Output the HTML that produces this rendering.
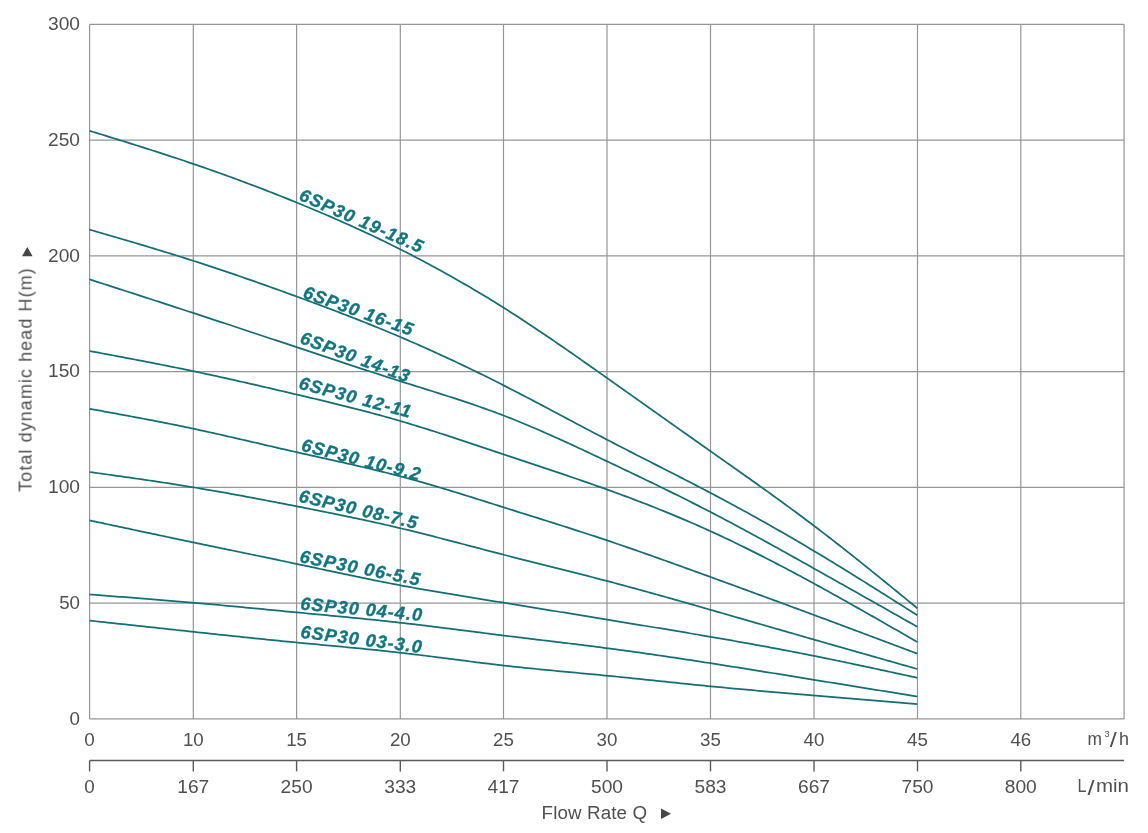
<!DOCTYPE html><html><head><meta charset="utf-8"><style>html,body{margin:0;padding:0;background:#fff;}svg{display:block;will-change:transform}text{font-family:"Liberation Sans",sans-serif;}</style></head><body>
<svg width="1148" height="833" viewBox="0 0 1148 833">
<rect width="1148" height="833" fill="#fff"/>
<g stroke="#969696" stroke-width="1.2"><line x1="89.6" y1="24.40" x2="89.6" y2="718.90"/><line x1="193.3" y1="24.40" x2="193.3" y2="718.90"/><line x1="296.6" y1="24.40" x2="296.6" y2="718.90"/><line x1="400.3" y1="24.40" x2="400.3" y2="718.90"/><line x1="503.5" y1="24.40" x2="503.5" y2="718.90"/><line x1="607.0" y1="24.40" x2="607.0" y2="718.90"/><line x1="710.5" y1="24.40" x2="710.5" y2="718.90"/><line x1="814.0" y1="24.40" x2="814.0" y2="718.90"/><line x1="917.5" y1="24.40" x2="917.5" y2="718.90"/><line x1="1020.8" y1="24.40" x2="1020.8" y2="718.90"/><line x1="1124.1" y1="24.40" x2="1124.1" y2="718.90"/><line x1="89.6" y1="24.40" x2="1124.1" y2="24.40"/><line x1="89.6" y1="140.15" x2="1124.1" y2="140.15"/><line x1="89.6" y1="255.90" x2="1124.1" y2="255.90"/><line x1="89.6" y1="371.65" x2="1124.1" y2="371.65"/><line x1="89.6" y1="487.40" x2="1124.1" y2="487.40"/><line x1="89.6" y1="603.15" x2="1124.1" y2="603.15"/><line x1="89.6" y1="718.90" x2="1124.1" y2="718.90"/></g>
<g fill="#505050" font-size="18.8" opacity="0.999"><text x="80" y="30.2" text-anchor="end" textLength="32" lengthAdjust="spacingAndGlyphs">300</text><text x="80" y="146.0" text-anchor="end" textLength="32" lengthAdjust="spacingAndGlyphs">250</text><text x="80" y="261.7" text-anchor="end" textLength="32" lengthAdjust="spacingAndGlyphs">200</text><text x="80" y="377.4" text-anchor="end" textLength="32" lengthAdjust="spacingAndGlyphs">150</text><text x="80" y="493.2" text-anchor="end" textLength="32" lengthAdjust="spacingAndGlyphs">100</text><text x="80" y="608.9" text-anchor="end" textLength="20.8" lengthAdjust="spacingAndGlyphs">50</text><text x="80" y="724.7" text-anchor="end">0</text></g>
<g fill="#505050" font-size="18" opacity="0.999"><text x="89.6" y="746" text-anchor="middle" font-size="18.8">0</text><text x="193.3" y="746" text-anchor="middle" font-size="18.8" textLength="20.8" lengthAdjust="spacingAndGlyphs">10</text><text x="296.6" y="746" text-anchor="middle" font-size="18.8" textLength="20.8" lengthAdjust="spacingAndGlyphs">15</text><text x="400.3" y="746" text-anchor="middle" font-size="18.8" textLength="20.8" lengthAdjust="spacingAndGlyphs">20</text><text x="503.5" y="746" text-anchor="middle" font-size="18.8" textLength="20.8" lengthAdjust="spacingAndGlyphs">25</text><text x="607.0" y="746" text-anchor="middle" font-size="18.8" textLength="20.8" lengthAdjust="spacingAndGlyphs">30</text><text x="710.5" y="746" text-anchor="middle" font-size="18.8" textLength="20.8" lengthAdjust="spacingAndGlyphs">35</text><text x="814.0" y="746" text-anchor="middle" font-size="18.8" textLength="20.8" lengthAdjust="spacingAndGlyphs">40</text><text x="917.5" y="746" text-anchor="middle" font-size="18.8" textLength="20.8" lengthAdjust="spacingAndGlyphs">45</text><text x="1020.8" y="746" text-anchor="middle" font-size="18.8" textLength="20.8" lengthAdjust="spacingAndGlyphs">46</text><text x="89.6" y="793" text-anchor="middle" font-size="18.8">0</text><text x="193.3" y="793" text-anchor="middle" font-size="18.8" textLength="32" lengthAdjust="spacingAndGlyphs">167</text><text x="296.6" y="793" text-anchor="middle" font-size="18.8" textLength="32" lengthAdjust="spacingAndGlyphs">250</text><text x="400.3" y="793" text-anchor="middle" font-size="18.8" textLength="32" lengthAdjust="spacingAndGlyphs">333</text><text x="503.5" y="793" text-anchor="middle" font-size="18.8" textLength="32" lengthAdjust="spacingAndGlyphs">417</text><text x="607.0" y="793" text-anchor="middle" font-size="18.8" textLength="32" lengthAdjust="spacingAndGlyphs">500</text><text x="710.5" y="793" text-anchor="middle" font-size="18.8" textLength="32" lengthAdjust="spacingAndGlyphs">583</text><text x="814.0" y="793" text-anchor="middle" font-size="18.8" textLength="32" lengthAdjust="spacingAndGlyphs">667</text><text x="917.5" y="793" text-anchor="middle" font-size="18.8" textLength="32" lengthAdjust="spacingAndGlyphs">750</text><text x="1020.8" y="793" text-anchor="middle" font-size="18.8" textLength="32" lengthAdjust="spacingAndGlyphs">800</text><text x="1087.5" y="745.3" textLength="14.5" lengthAdjust="spacingAndGlyphs">m</text><text x="1104.6" y="736.6" font-size="9">3</text><text x="1109.8" y="747.3" font-size="21" textLength="7" lengthAdjust="spacingAndGlyphs">/</text><text x="1118.9" y="745.3" textLength="10" lengthAdjust="spacingAndGlyphs">h</text><g font-size="18.8"><text x="1077.6" y="792.3" textLength="9" lengthAdjust="spacingAndGlyphs">L</text><text x="1087.4" y="794.6" font-size="21" textLength="7" lengthAdjust="spacingAndGlyphs">/</text><text x="1095.9" y="792.3" textLength="33" lengthAdjust="spacingAndGlyphs">min</text></g><text x="541.6" y="818.8" font-size="18.8" textLength="105.5" lengthAdjust="spacing">Flow Rate Q</text><text transform="translate(31.6,491.8) rotate(-90)" textLength="223.5" lengthAdjust="spacing">Total dynamic head H(m)</text></g>
<path d="M661,808.5 L671,813.8 L661,819 Z" fill="#464646"/>
<path d="M27.3,246.9 L32.6,256.3 L22,256.3 Z" fill="#464646"/>
<g stroke="#5a5a5a" stroke-width="1.4"><line x1="89.6" y1="760.5" x2="1124.1" y2="760.5"/><line x1="89.6" y1="760.5" x2="89.6" y2="771.4"/><line x1="193.3" y1="760.5" x2="193.3" y2="771.4"/><line x1="296.6" y1="760.5" x2="296.6" y2="771.4"/><line x1="400.3" y1="760.5" x2="400.3" y2="771.4"/><line x1="503.5" y1="760.5" x2="503.5" y2="771.4"/><line x1="607.0" y1="760.5" x2="607.0" y2="771.4"/><line x1="710.5" y1="760.5" x2="710.5" y2="771.4"/><line x1="814.0" y1="760.5" x2="814.0" y2="771.4"/><line x1="917.5" y1="760.5" x2="917.5" y2="771.4"/><line x1="1020.8" y1="760.5" x2="1020.8" y2="771.4"/></g>
<g fill="none" stroke="#136e75" stroke-width="1.75" stroke-linejoin="round"><path d="M89.6,130.80 L92.6,131.73 L95.6,132.65 L98.6,133.58 L101.6,134.50 L104.6,135.43 L107.6,136.36 L110.6,137.29 L113.6,138.22 L116.6,139.15 L119.6,140.08 L122.6,141.01 L125.6,141.95 L128.6,142.89 L131.6,143.83 L134.6,144.77 L137.6,145.72 L140.6,146.66 L143.6,147.61 L146.6,148.57 L149.6,149.52 L152.6,150.48 L155.6,151.44 L158.6,152.41 L161.6,153.38 L164.6,154.35 L167.6,155.33 L170.6,156.31 L173.6,157.30 L176.6,158.29 L179.6,159.29 L182.6,160.29 L185.6,161.29 L188.6,162.31 L191.6,163.32 L194.6,164.34 L197.6,165.37 L200.6,166.40 L203.6,167.44 L206.6,168.49 L209.6,169.54 L212.6,170.59 L215.6,171.65 L218.6,172.72 L221.6,173.79 L224.6,174.87 L227.6,175.95 L230.6,177.04 L233.6,178.14 L236.6,179.24 L239.6,180.35 L242.6,181.46 L245.6,182.58 L248.6,183.70 L251.6,184.84 L254.6,185.97 L257.6,187.11 L260.6,188.26 L263.6,189.42 L266.6,190.58 L269.6,191.74 L272.6,192.91 L275.6,194.09 L278.6,195.27 L281.6,196.46 L284.6,197.66 L287.6,198.86 L290.6,200.07 L293.6,201.28 L296.6,202.50 L299.6,203.73 L302.6,204.96 L305.6,206.20 L308.6,207.44 L311.6,208.69 L314.6,209.95 L317.6,211.21 L320.6,212.48 L323.6,213.76 L326.6,215.05 L329.6,216.34 L332.6,217.64 L335.6,218.95 L338.6,220.27 L341.6,221.59 L344.6,222.93 L347.6,224.27 L350.6,225.62 L353.6,226.97 L356.6,228.34 L359.6,229.71 L362.6,231.10 L365.6,232.49 L368.6,233.89 L371.6,235.30 L374.6,236.72 L377.6,238.15 L380.6,239.59 L383.6,241.04 L386.6,242.50 L389.6,243.97 L392.6,245.45 L395.6,246.94 L398.6,248.44 L401.6,249.96 L404.6,251.48 L407.6,253.01 L410.6,254.56 L413.6,256.11 L416.6,257.67 L419.6,259.25 L422.6,260.84 L425.6,262.43 L428.6,264.04 L431.6,265.66 L434.6,267.28 L437.6,268.92 L440.6,270.57 L443.6,272.23 L446.6,273.90 L449.6,275.58 L452.6,277.26 L455.6,278.96 L458.6,280.67 L461.6,282.39 L464.6,284.12 L467.6,285.86 L470.6,287.62 L473.6,289.38 L476.6,291.16 L479.6,292.94 L482.6,294.74 L485.6,296.55 L488.6,298.37 L491.6,300.20 L494.6,302.05 L497.6,303.91 L500.6,305.78 L503.6,307.66 L506.6,309.56 L509.6,311.47 L512.6,313.39 L515.6,315.32 L518.6,317.27 L521.6,319.22 L524.6,321.19 L527.6,323.16 L530.6,325.15 L533.6,327.15 L536.6,329.15 L539.6,331.16 L542.6,333.19 L545.6,335.22 L548.6,337.26 L551.6,339.30 L554.6,341.36 L557.6,343.42 L560.6,345.48 L563.6,347.56 L566.6,349.63 L569.6,351.72 L572.6,353.81 L575.6,355.90 L578.6,358.00 L581.6,360.10 L584.6,362.20 L587.6,364.31 L590.6,366.42 L593.6,368.54 L596.6,370.65 L599.6,372.77 L602.6,374.89 L605.6,377.01 L608.6,379.13 L611.6,381.25 L614.6,383.37 L617.6,385.50 L620.6,387.62 L623.6,389.74 L626.6,391.87 L629.6,393.99 L632.6,396.11 L635.6,398.24 L638.6,400.36 L641.6,402.49 L644.6,404.61 L647.6,406.73 L650.6,408.86 L653.6,410.98 L656.6,413.11 L659.6,415.23 L662.6,417.35 L665.6,419.48 L668.6,421.60 L671.6,423.72 L674.6,425.85 L677.6,427.97 L680.6,430.09 L683.6,432.21 L686.6,434.33 L689.6,436.45 L692.6,438.57 L695.6,440.69 L698.6,442.81 L701.6,444.92 L704.6,447.04 L707.6,449.16 L710.6,451.27 L713.6,453.38 L716.6,455.50 L719.6,457.61 L722.6,459.72 L725.6,461.84 L728.6,463.95 L731.6,466.06 L734.6,468.18 L737.6,470.30 L740.6,472.42 L743.6,474.54 L746.6,476.67 L749.6,478.79 L752.6,480.92 L755.6,483.06 L758.6,485.20 L761.6,487.34 L764.6,489.49 L767.6,491.64 L770.6,493.80 L773.6,495.96 L776.6,498.13 L779.6,500.31 L782.6,502.49 L785.6,504.68 L788.6,506.87 L791.6,509.08 L794.6,511.29 L797.6,513.51 L800.6,515.74 L803.6,517.97 L806.6,520.22 L809.6,522.47 L812.6,524.74 L815.6,527.01 L818.6,529.30 L821.6,531.60 L824.6,533.90 L827.6,536.21 L830.6,538.54 L833.6,540.87 L836.6,543.21 L839.6,545.56 L842.6,547.91 L845.6,550.28 L848.6,552.65 L851.6,555.02 L854.6,557.41 L857.6,559.80 L860.6,562.19 L863.6,564.59 L866.6,567.00 L869.6,569.41 L872.6,571.83 L875.6,574.25 L878.6,576.68 L881.6,579.10 L884.6,581.54 L887.6,583.97 L890.6,586.41 L893.6,588.85 L896.6,591.30 L899.6,593.74 L902.6,596.19 L905.6,598.64 L908.6,601.09 L911.6,603.54 L914.6,605.99 L917.3,608.20"/><path d="M89.6,229.60 L92.6,230.47 L95.6,231.35 L98.6,232.22 L101.6,233.09 L104.6,233.97 L107.6,234.84 L110.6,235.72 L113.6,236.59 L116.6,237.47 L119.6,238.35 L122.6,239.23 L125.6,240.12 L128.6,241.00 L131.6,241.89 L134.6,242.78 L137.6,243.67 L140.6,244.56 L143.6,245.46 L146.6,246.35 L149.6,247.26 L152.6,248.16 L155.6,249.07 L158.6,249.98 L161.6,250.89 L164.6,251.81 L167.6,252.73 L170.6,253.66 L173.6,254.59 L176.6,255.52 L179.6,256.46 L182.6,257.40 L185.6,258.35 L188.6,259.30 L191.6,260.26 L194.6,261.22 L197.6,262.18 L200.6,263.16 L203.6,264.13 L206.6,265.12 L209.6,266.10 L212.6,267.09 L215.6,268.09 L218.6,269.09 L221.6,270.10 L224.6,271.11 L227.6,272.12 L230.6,273.14 L233.6,274.16 L236.6,275.19 L239.6,276.22 L242.6,277.26 L245.6,278.30 L248.6,279.34 L251.6,280.39 L254.6,281.44 L257.6,282.49 L260.6,283.55 L263.6,284.61 L266.6,285.68 L269.6,286.75 L272.6,287.82 L275.6,288.89 L278.6,289.97 L281.6,291.05 L284.6,292.14 L287.6,293.22 L290.6,294.31 L293.6,295.40 L296.6,296.50 L299.6,297.60 L302.6,298.70 L305.6,299.80 L308.6,300.91 L311.6,302.02 L314.6,303.13 L317.6,304.25 L320.6,305.37 L323.6,306.49 L326.6,307.62 L329.6,308.75 L332.6,309.89 L335.6,311.03 L338.6,312.18 L341.6,313.33 L344.6,314.48 L347.6,315.64 L350.6,316.81 L353.6,317.98 L356.6,319.16 L359.6,320.34 L362.6,321.53 L365.6,322.72 L368.6,323.92 L371.6,325.12 L374.6,326.34 L377.6,327.55 L380.6,328.78 L383.6,330.01 L386.6,331.25 L389.6,332.50 L392.6,333.75 L395.6,335.01 L398.6,336.28 L401.6,337.55 L404.6,338.84 L407.6,340.13 L410.6,341.43 L413.6,342.73 L416.6,344.05 L419.6,345.37 L422.6,346.70 L425.6,348.04 L428.6,349.38 L431.6,350.73 L434.6,352.09 L437.6,353.46 L440.6,354.83 L443.6,356.22 L446.6,357.61 L449.6,359.00 L452.6,360.41 L455.6,361.82 L458.6,363.23 L461.6,364.66 L464.6,366.09 L467.6,367.53 L470.6,368.98 L473.6,370.43 L476.6,371.89 L479.6,373.36 L482.6,374.83 L485.6,376.32 L488.6,377.81 L491.6,379.30 L494.6,380.80 L497.6,382.31 L500.6,383.83 L503.6,385.35 L506.6,386.88 L509.6,388.42 L512.6,389.96 L515.6,391.51 L518.6,393.06 L521.6,394.62 L524.6,396.18 L527.6,397.75 L530.6,399.32 L533.6,400.89 L536.6,402.47 L539.6,404.05 L542.6,405.64 L545.6,407.23 L548.6,408.81 L551.6,410.40 L554.6,412.00 L557.6,413.59 L560.6,415.18 L563.6,416.78 L566.6,418.37 L569.6,419.97 L572.6,421.56 L575.6,423.16 L578.6,424.75 L581.6,426.34 L584.6,427.93 L587.6,429.51 L590.6,431.10 L593.6,432.68 L596.6,434.26 L599.6,435.83 L602.6,437.40 L605.6,438.97 L608.6,440.53 L611.6,442.09 L614.6,443.64 L617.6,445.19 L620.6,446.74 L623.6,448.28 L626.6,449.82 L629.6,451.36 L632.6,452.90 L635.6,454.43 L638.6,455.96 L641.6,457.49 L644.6,459.02 L647.6,460.55 L650.6,462.07 L653.6,463.60 L656.6,465.13 L659.6,466.65 L662.6,468.18 L665.6,469.71 L668.6,471.24 L671.6,472.77 L674.6,474.30 L677.6,475.84 L680.6,477.38 L683.6,478.92 L686.6,480.46 L689.6,482.01 L692.6,483.56 L695.6,485.11 L698.6,486.67 L701.6,488.23 L704.6,489.80 L707.6,491.37 L710.6,492.95 L713.6,494.54 L716.6,496.13 L719.6,497.72 L722.6,499.32 L725.6,500.93 L728.6,502.54 L731.6,504.16 L734.6,505.79 L737.6,507.42 L740.6,509.05 L743.6,510.69 L746.6,512.34 L749.6,514.00 L752.6,515.66 L755.6,517.32 L758.6,519.00 L761.6,520.67 L764.6,522.36 L767.6,524.05 L770.6,525.75 L773.6,527.45 L776.6,529.16 L779.6,530.87 L782.6,532.60 L785.6,534.32 L788.6,536.06 L791.6,537.80 L794.6,539.55 L797.6,541.30 L800.6,543.06 L803.6,544.83 L806.6,546.60 L809.6,548.38 L812.6,550.16 L815.6,551.96 L818.6,553.76 L821.6,555.56 L824.6,557.37 L827.6,559.19 L830.6,561.01 L833.6,562.84 L836.6,564.67 L839.6,566.51 L842.6,568.36 L845.6,570.20 L848.6,572.06 L851.6,573.91 L854.6,575.78 L857.6,577.64 L860.6,579.51 L863.6,581.38 L866.6,583.26 L869.6,585.14 L872.6,587.02 L875.6,588.91 L878.6,590.79 L881.6,592.68 L884.6,594.58 L887.6,596.47 L890.6,598.37 L893.6,600.27 L896.6,602.17 L899.6,604.07 L902.6,605.97 L905.6,607.87 L908.6,609.78 L911.6,611.68 L914.6,613.59 L917.3,615.30"/><path d="M89.6,279.40 L92.6,280.37 L95.6,281.33 L98.6,282.30 L101.6,283.27 L104.6,284.24 L107.6,285.20 L110.6,286.17 L113.6,287.14 L116.6,288.11 L119.6,289.07 L122.6,290.04 L125.6,291.01 L128.6,291.98 L131.6,292.95 L134.6,293.92 L137.6,294.89 L140.6,295.86 L143.6,296.83 L146.6,297.80 L149.6,298.77 L152.6,299.75 L155.6,300.72 L158.6,301.69 L161.6,302.67 L164.6,303.64 L167.6,304.62 L170.6,305.59 L173.6,306.57 L176.6,307.55 L179.6,308.52 L182.6,309.50 L185.6,310.48 L188.6,311.46 L191.6,312.44 L194.6,313.43 L197.6,314.41 L200.6,315.39 L203.6,316.38 L206.6,317.36 L209.6,318.35 L212.6,319.34 L215.6,320.32 L218.6,321.31 L221.6,322.30 L224.6,323.29 L227.6,324.28 L230.6,325.27 L233.6,326.26 L236.6,327.26 L239.6,328.25 L242.6,329.24 L245.6,330.24 L248.6,331.23 L251.6,332.23 L254.6,333.22 L257.6,334.22 L260.6,335.22 L263.6,336.21 L266.6,337.21 L269.6,338.21 L272.6,339.21 L275.6,340.20 L278.6,341.20 L281.6,342.20 L284.6,343.20 L287.6,344.20 L290.6,345.20 L293.6,346.20 L296.6,347.20 L299.6,348.20 L302.6,349.20 L305.6,350.20 L308.6,351.20 L311.6,352.20 L314.6,353.20 L317.6,354.20 L320.6,355.20 L323.6,356.20 L326.6,357.19 L329.6,358.19 L332.6,359.19 L335.6,360.18 L338.6,361.17 L341.6,362.17 L344.6,363.16 L347.6,364.15 L350.6,365.13 L353.6,366.12 L356.6,367.11 L359.6,368.09 L362.6,369.07 L365.6,370.05 L368.6,371.03 L371.6,372.00 L374.6,372.97 L377.6,373.94 L380.6,374.91 L383.6,375.88 L386.6,376.84 L389.6,377.80 L392.6,378.76 L395.6,379.71 L398.6,380.66 L401.6,381.61 L404.6,382.56 L407.6,383.50 L410.6,384.44 L413.6,385.38 L416.6,386.32 L419.6,387.25 L422.6,388.19 L425.6,389.13 L428.6,390.07 L431.6,391.01 L434.6,391.96 L437.6,392.91 L440.6,393.86 L443.6,394.81 L446.6,395.77 L449.6,396.73 L452.6,397.70 L455.6,398.68 L458.6,399.66 L461.6,400.65 L464.6,401.65 L467.6,402.65 L470.6,403.66 L473.6,404.69 L476.6,405.72 L479.6,406.76 L482.6,407.82 L485.6,408.88 L488.6,409.96 L491.6,411.05 L494.6,412.15 L497.6,413.26 L500.6,414.39 L503.6,415.54 L506.6,416.70 L509.6,417.87 L512.6,419.06 L515.6,420.26 L518.6,421.47 L521.6,422.70 L524.6,423.94 L527.6,425.19 L530.6,426.46 L533.6,427.73 L536.6,429.02 L539.6,430.32 L542.6,431.62 L545.6,432.94 L548.6,434.26 L551.6,435.60 L554.6,436.94 L557.6,438.29 L560.6,439.65 L563.6,441.01 L566.6,442.39 L569.6,443.76 L572.6,445.15 L575.6,446.54 L578.6,447.93 L581.6,449.33 L584.6,450.73 L587.6,452.14 L590.6,453.55 L593.6,454.96 L596.6,456.38 L599.6,457.80 L602.6,459.22 L605.6,460.64 L608.6,462.06 L611.6,463.48 L614.6,464.90 L617.6,466.33 L620.6,467.75 L623.6,469.18 L626.6,470.61 L629.6,472.04 L632.6,473.48 L635.6,474.91 L638.6,476.35 L641.6,477.79 L644.6,479.23 L647.6,480.68 L650.6,482.13 L653.6,483.58 L656.6,485.04 L659.6,486.49 L662.6,487.96 L665.6,489.43 L668.6,490.90 L671.6,492.37 L674.6,493.86 L677.6,495.34 L680.6,496.83 L683.6,498.33 L686.6,499.83 L689.6,501.34 L692.6,502.85 L695.6,504.37 L698.6,505.89 L701.6,507.42 L704.6,508.96 L707.6,510.50 L710.6,512.05 L713.6,513.61 L716.6,515.17 L719.6,516.74 L722.6,518.32 L725.6,519.90 L728.6,521.49 L731.6,523.09 L734.6,524.69 L737.6,526.30 L740.6,527.91 L743.6,529.53 L746.6,531.15 L749.6,532.77 L752.6,534.41 L755.6,536.04 L758.6,537.68 L761.6,539.32 L764.6,540.97 L767.6,542.62 L770.6,544.28 L773.6,545.94 L776.6,547.60 L779.6,549.26 L782.6,550.93 L785.6,552.60 L788.6,554.27 L791.6,555.95 L794.6,557.62 L797.6,559.30 L800.6,560.98 L803.6,562.66 L806.6,564.35 L809.6,566.03 L812.6,567.71 L815.6,569.40 L818.6,571.09 L821.6,572.77 L824.6,574.46 L827.6,576.15 L830.6,577.84 L833.6,579.53 L836.6,581.21 L839.6,582.90 L842.6,584.60 L845.6,586.29 L848.6,587.98 L851.6,589.67 L854.6,591.36 L857.6,593.06 L860.6,594.75 L863.6,596.44 L866.6,598.14 L869.6,599.83 L872.6,601.53 L875.6,603.22 L878.6,604.92 L881.6,606.61 L884.6,608.31 L887.6,610.00 L890.6,611.70 L893.6,613.40 L896.6,615.09 L899.6,616.79 L902.6,618.49 L905.6,620.18 L908.6,621.88 L911.6,623.58 L914.6,625.27 L917.3,626.80"/><path d="M89.6,351.00 L92.6,351.56 L95.6,352.12 L98.6,352.69 L101.6,353.25 L104.6,353.81 L107.6,354.38 L110.6,354.94 L113.6,355.51 L116.6,356.07 L119.6,356.64 L122.6,357.21 L125.6,357.78 L128.6,358.35 L131.6,358.92 L134.6,359.50 L137.6,360.07 L140.6,360.65 L143.6,361.23 L146.6,361.81 L149.6,362.39 L152.6,362.98 L155.6,363.57 L158.6,364.16 L161.6,364.75 L164.6,365.35 L167.6,365.94 L170.6,366.54 L173.6,367.15 L176.6,367.76 L179.6,368.37 L182.6,368.98 L185.6,369.60 L188.6,370.22 L191.6,370.84 L194.6,371.47 L197.6,372.11 L200.6,372.74 L203.6,373.38 L206.6,374.02 L209.6,374.67 L212.6,375.32 L215.6,375.97 L218.6,376.63 L221.6,377.29 L224.6,377.95 L227.6,378.62 L230.6,379.29 L233.6,379.96 L236.6,380.63 L239.6,381.31 L242.6,381.98 L245.6,382.66 L248.6,383.35 L251.6,384.03 L254.6,384.72 L257.6,385.41 L260.6,386.10 L263.6,386.79 L266.6,387.49 L269.6,388.18 L272.6,388.88 L275.6,389.58 L278.6,390.28 L281.6,390.98 L284.6,391.68 L287.6,392.38 L290.6,393.09 L293.6,393.79 L296.6,394.50 L299.6,395.21 L302.6,395.91 L305.6,396.62 L308.6,397.33 L311.6,398.04 L314.6,398.76 L317.6,399.47 L320.6,400.19 L323.6,400.91 L326.6,401.64 L329.6,402.36 L332.6,403.09 L335.6,403.83 L338.6,404.56 L341.6,405.31 L344.6,406.05 L347.6,406.80 L350.6,407.56 L353.6,408.32 L356.6,409.08 L359.6,409.86 L362.6,410.63 L365.6,411.42 L368.6,412.21 L371.6,413.00 L374.6,413.81 L377.6,414.62 L380.6,415.43 L383.6,416.26 L386.6,417.09 L389.6,417.93 L392.6,418.78 L395.6,419.64 L398.6,420.51 L401.6,421.38 L404.6,422.26 L407.6,423.16 L410.6,424.06 L413.6,424.97 L416.6,425.89 L419.6,426.81 L422.6,427.74 L425.6,428.68 L428.6,429.63 L431.6,430.58 L434.6,431.54 L437.6,432.50 L440.6,433.47 L443.6,434.44 L446.6,435.42 L449.6,436.40 L452.6,437.38 L455.6,438.37 L458.6,439.37 L461.6,440.36 L464.6,441.36 L467.6,442.36 L470.6,443.36 L473.6,444.37 L476.6,445.37 L479.6,446.38 L482.6,447.39 L485.6,448.40 L488.6,449.40 L491.6,450.41 L494.6,451.42 L497.6,452.42 L500.6,453.43 L503.6,454.43 L506.6,455.44 L509.6,456.44 L512.6,457.44 L515.6,458.43 L518.6,459.43 L521.6,460.43 L524.6,461.42 L527.6,462.42 L530.6,463.42 L533.6,464.41 L536.6,465.41 L539.6,466.41 L542.6,467.40 L545.6,468.40 L548.6,469.40 L551.6,470.41 L554.6,471.41 L557.6,472.42 L560.6,473.43 L563.6,474.44 L566.6,475.45 L569.6,476.47 L572.6,477.49 L575.6,478.52 L578.6,479.54 L581.6,480.58 L584.6,481.61 L587.6,482.65 L590.6,483.70 L593.6,484.75 L596.6,485.80 L599.6,486.86 L602.6,487.93 L605.6,489.00 L608.6,490.08 L611.6,491.16 L614.6,492.25 L617.6,493.34 L620.6,494.45 L623.6,495.56 L626.6,496.67 L629.6,497.80 L632.6,498.93 L635.6,500.06 L638.6,501.21 L641.6,502.36 L644.6,503.52 L647.6,504.69 L650.6,505.87 L653.6,507.05 L656.6,508.24 L659.6,509.44 L662.6,510.65 L665.6,511.87 L668.6,513.09 L671.6,514.33 L674.6,515.57 L677.6,516.82 L680.6,518.09 L683.6,519.36 L686.6,520.64 L689.6,521.93 L692.6,523.23 L695.6,524.54 L698.6,525.86 L701.6,527.19 L704.6,528.53 L707.6,529.88 L710.6,531.25 L713.6,532.62 L716.6,534.00 L719.6,535.39 L722.6,536.80 L725.6,538.21 L728.6,539.64 L731.6,541.07 L734.6,542.51 L737.6,543.96 L740.6,545.42 L743.6,546.90 L746.6,548.37 L749.6,549.86 L752.6,551.36 L755.6,552.86 L758.6,554.38 L761.6,555.90 L764.6,557.43 L767.6,558.96 L770.6,560.51 L773.6,562.06 L776.6,563.62 L779.6,565.19 L782.6,566.76 L785.6,568.34 L788.6,569.93 L791.6,571.52 L794.6,573.12 L797.6,574.72 L800.6,576.34 L803.6,577.95 L806.6,579.57 L809.6,581.20 L812.6,582.84 L815.6,584.47 L818.6,586.12 L821.6,587.77 L824.6,589.42 L827.6,591.08 L830.6,592.74 L833.6,594.40 L836.6,596.07 L839.6,597.75 L842.6,599.43 L845.6,601.11 L848.6,602.79 L851.6,604.48 L854.6,606.17 L857.6,607.87 L860.6,609.56 L863.6,611.26 L866.6,612.97 L869.6,614.67 L872.6,616.38 L875.6,618.09 L878.6,619.80 L881.6,621.51 L884.6,623.23 L887.6,624.95 L890.6,626.67 L893.6,628.39 L896.6,630.11 L899.6,631.83 L902.6,633.55 L905.6,635.27 L908.6,637.00 L911.6,638.72 L914.6,640.45 L917.3,642.00"/><path d="M89.6,408.80 L92.6,409.34 L95.6,409.89 L98.6,410.43 L101.6,410.98 L104.6,411.52 L107.6,412.07 L110.6,412.62 L113.6,413.17 L116.6,413.72 L119.6,414.27 L122.6,414.82 L125.6,415.38 L128.6,415.93 L131.6,416.49 L134.6,417.05 L137.6,417.62 L140.6,418.18 L143.6,418.75 L146.6,419.32 L149.6,419.90 L152.6,420.47 L155.6,421.05 L158.6,421.64 L161.6,422.23 L164.6,422.82 L167.6,423.41 L170.6,424.01 L173.6,424.62 L176.6,425.23 L179.6,425.84 L182.6,426.46 L185.6,427.08 L188.6,427.71 L191.6,428.34 L194.6,428.98 L197.6,429.62 L200.6,430.27 L203.6,430.92 L206.6,431.58 L209.6,432.24 L212.6,432.91 L215.6,433.58 L218.6,434.25 L221.6,434.93 L224.6,435.61 L227.6,436.29 L230.6,436.98 L233.6,437.67 L236.6,438.36 L239.6,439.05 L242.6,439.74 L245.6,440.44 L248.6,441.13 L251.6,441.83 L254.6,442.52 L257.6,443.22 L260.6,443.92 L263.6,444.62 L266.6,445.31 L269.6,446.01 L272.6,446.70 L275.6,447.40 L278.6,448.09 L281.6,448.78 L284.6,449.47 L287.6,450.16 L290.6,450.84 L293.6,451.52 L296.6,452.20 L299.6,452.88 L302.6,453.55 L305.6,454.22 L308.6,454.89 L311.6,455.55 L314.6,456.22 L317.6,456.88 L320.6,457.54 L323.6,458.21 L326.6,458.87 L329.6,459.54 L332.6,460.20 L335.6,460.87 L338.6,461.54 L341.6,462.21 L344.6,462.88 L347.6,463.55 L350.6,464.23 L353.6,464.92 L356.6,465.60 L359.6,466.29 L362.6,466.99 L365.6,467.69 L368.6,468.40 L371.6,469.11 L374.6,469.83 L377.6,470.55 L380.6,471.29 L383.6,472.03 L386.6,472.77 L389.6,473.53 L392.6,474.30 L395.6,475.07 L398.6,475.85 L401.6,476.64 L404.6,477.45 L407.6,478.26 L410.6,479.08 L413.6,479.91 L416.6,480.75 L419.6,481.60 L422.6,482.45 L425.6,483.31 L428.6,484.18 L431.6,485.06 L434.6,485.94 L437.6,486.83 L440.6,487.73 L443.6,488.63 L446.6,489.53 L449.6,490.44 L452.6,491.36 L455.6,492.28 L458.6,493.20 L461.6,494.13 L464.6,495.06 L467.6,496.00 L470.6,496.93 L473.6,497.87 L476.6,498.82 L479.6,499.76 L482.6,500.70 L485.6,501.65 L488.6,502.60 L491.6,503.54 L494.6,504.49 L497.6,505.44 L500.6,506.39 L503.6,507.33 L506.6,508.28 L509.6,509.22 L512.6,510.16 L515.6,511.11 L518.6,512.05 L521.6,512.99 L524.6,513.93 L527.6,514.88 L530.6,515.82 L533.6,516.76 L536.6,517.70 L539.6,518.65 L542.6,519.59 L545.6,520.54 L548.6,521.49 L551.6,522.43 L554.6,523.38 L557.6,524.34 L560.6,525.29 L563.6,526.25 L566.6,527.20 L569.6,528.16 L572.6,529.13 L575.6,530.09 L578.6,531.06 L581.6,532.03 L584.6,533.01 L587.6,533.98 L590.6,534.97 L593.6,535.95 L596.6,536.94 L599.6,537.93 L602.6,538.93 L605.6,539.93 L608.6,540.94 L611.6,541.95 L614.6,542.96 L617.6,543.98 L620.6,545.00 L623.6,546.03 L626.6,547.06 L629.6,548.10 L632.6,549.14 L635.6,550.18 L638.6,551.22 L641.6,552.27 L644.6,553.33 L647.6,554.38 L650.6,555.44 L653.6,556.50 L656.6,557.56 L659.6,558.63 L662.6,559.70 L665.6,560.77 L668.6,561.84 L671.6,562.92 L674.6,564.00 L677.6,565.07 L680.6,566.16 L683.6,567.24 L686.6,568.32 L689.6,569.41 L692.6,570.50 L695.6,571.58 L698.6,572.67 L701.6,573.76 L704.6,574.85 L707.6,575.94 L710.6,577.04 L713.6,578.13 L716.6,579.22 L719.6,580.31 L722.6,581.41 L725.6,582.50 L728.6,583.60 L731.6,584.69 L734.6,585.79 L737.6,586.88 L740.6,587.98 L743.6,589.08 L746.6,590.18 L749.6,591.27 L752.6,592.37 L755.6,593.47 L758.6,594.57 L761.6,595.67 L764.6,596.78 L767.6,597.88 L770.6,598.98 L773.6,600.08 L776.6,601.19 L779.6,602.29 L782.6,603.39 L785.6,604.50 L788.6,605.61 L791.6,606.71 L794.6,607.82 L797.6,608.93 L800.6,610.04 L803.6,611.15 L806.6,612.26 L809.6,613.37 L812.6,614.48 L815.6,615.59 L818.6,616.71 L821.6,617.82 L824.6,618.94 L827.6,620.05 L830.6,621.17 L833.6,622.28 L836.6,623.40 L839.6,624.52 L842.6,625.64 L845.6,626.76 L848.6,627.87 L851.6,628.99 L854.6,630.11 L857.6,631.24 L860.6,632.36 L863.6,633.48 L866.6,634.60 L869.6,635.72 L872.6,636.85 L875.6,637.97 L878.6,639.09 L881.6,640.22 L884.6,641.34 L887.6,642.46 L890.6,643.59 L893.6,644.71 L896.6,645.84 L899.6,646.96 L902.6,648.09 L905.6,649.21 L908.6,650.34 L911.6,651.46 L914.6,652.59 L917.3,653.60"/><path d="M89.6,472.00 L92.6,472.42 L95.6,472.83 L98.6,473.25 L101.6,473.67 L104.6,474.08 L107.6,474.50 L110.6,474.92 L113.6,475.34 L116.6,475.76 L119.6,476.19 L122.6,476.61 L125.6,477.03 L128.6,477.46 L131.6,477.89 L134.6,478.32 L137.6,478.75 L140.6,479.19 L143.6,479.62 L146.6,480.06 L149.6,480.50 L152.6,480.95 L155.6,481.39 L158.6,481.84 L161.6,482.30 L164.6,482.75 L167.6,483.21 L170.6,483.68 L173.6,484.14 L176.6,484.61 L179.6,485.08 L182.6,485.56 L185.6,486.04 L188.6,486.53 L191.6,487.02 L194.6,487.51 L197.6,488.01 L200.6,488.52 L203.6,489.03 L206.6,489.54 L209.6,490.05 L212.6,490.57 L215.6,491.10 L218.6,491.63 L221.6,492.16 L224.6,492.69 L227.6,493.23 L230.6,493.77 L233.6,494.32 L236.6,494.86 L239.6,495.41 L242.6,495.97 L245.6,496.52 L248.6,497.08 L251.6,497.65 L254.6,498.21 L257.6,498.78 L260.6,499.34 L263.6,499.91 L266.6,500.49 L269.6,501.06 L272.6,501.64 L275.6,502.22 L278.6,502.80 L281.6,503.38 L284.6,503.96 L287.6,504.54 L290.6,505.13 L293.6,505.71 L296.6,506.30 L299.6,506.89 L302.6,507.48 L305.6,508.07 L308.6,508.66 L311.6,509.25 L314.6,509.84 L317.6,510.44 L320.6,511.04 L323.6,511.64 L326.6,512.24 L329.6,512.84 L332.6,513.45 L335.6,514.06 L338.6,514.67 L341.6,515.29 L344.6,515.91 L347.6,516.53 L350.6,517.16 L353.6,517.79 L356.6,518.42 L359.6,519.06 L362.6,519.70 L365.6,520.35 L368.6,521.00 L371.6,521.65 L374.6,522.31 L377.6,522.98 L380.6,523.65 L383.6,524.33 L386.6,525.01 L389.6,525.70 L392.6,526.39 L395.6,527.09 L398.6,527.80 L401.6,528.51 L404.6,529.23 L407.6,529.95 L410.6,530.68 L413.6,531.42 L416.6,532.16 L419.6,532.91 L422.6,533.66 L425.6,534.41 L428.6,535.17 L431.6,535.94 L434.6,536.70 L437.6,537.48 L440.6,538.25 L443.6,539.03 L446.6,539.80 L449.6,540.59 L452.6,541.37 L455.6,542.15 L458.6,542.94 L461.6,543.73 L464.6,544.52 L467.6,545.31 L470.6,546.10 L473.6,546.89 L476.6,547.67 L479.6,548.46 L482.6,549.25 L485.6,550.04 L488.6,550.82 L491.6,551.61 L494.6,552.39 L497.6,553.17 L500.6,553.95 L503.6,554.73 L506.6,555.50 L509.6,556.27 L512.6,557.04 L515.6,557.80 L518.6,558.56 L521.6,559.32 L524.6,560.08 L527.6,560.84 L530.6,561.60 L533.6,562.35 L536.6,563.11 L539.6,563.86 L542.6,564.61 L545.6,565.37 L548.6,566.12 L551.6,566.87 L554.6,567.62 L557.6,568.38 L560.6,569.13 L563.6,569.88 L566.6,570.64 L569.6,571.40 L572.6,572.15 L575.6,572.91 L578.6,573.67 L581.6,574.44 L584.6,575.20 L587.6,575.97 L590.6,576.74 L593.6,577.51 L596.6,578.29 L599.6,579.07 L602.6,579.85 L605.6,580.63 L608.6,581.42 L611.6,582.21 L614.6,583.01 L617.6,583.81 L620.6,584.61 L623.6,585.42 L626.6,586.23 L629.6,587.04 L632.6,587.86 L635.6,588.68 L638.6,589.50 L641.6,590.32 L644.6,591.15 L647.6,591.98 L650.6,592.81 L653.6,593.65 L656.6,594.48 L659.6,595.32 L662.6,596.17 L665.6,597.01 L668.6,597.85 L671.6,598.70 L674.6,599.55 L677.6,600.40 L680.6,601.25 L683.6,602.10 L686.6,602.96 L689.6,603.81 L692.6,604.67 L695.6,605.53 L698.6,606.39 L701.6,607.25 L704.6,608.11 L707.6,608.97 L710.6,609.83 L713.6,610.69 L716.6,611.55 L719.6,612.42 L722.6,613.28 L725.6,614.14 L728.6,615.01 L731.6,615.87 L734.6,616.73 L737.6,617.60 L740.6,618.46 L743.6,619.33 L746.6,620.19 L749.6,621.06 L752.6,621.92 L755.6,622.79 L758.6,623.65 L761.6,624.52 L764.6,625.38 L767.6,626.25 L770.6,627.11 L773.6,627.98 L776.6,628.84 L779.6,629.71 L782.6,630.57 L785.6,631.44 L788.6,632.30 L791.6,633.16 L794.6,634.03 L797.6,634.89 L800.6,635.75 L803.6,636.62 L806.6,637.48 L809.6,638.34 L812.6,639.20 L815.6,640.06 L818.6,640.92 L821.6,641.78 L824.6,642.64 L827.6,643.49 L830.6,644.35 L833.6,645.21 L836.6,646.07 L839.6,646.92 L842.6,647.78 L845.6,648.63 L848.6,649.49 L851.6,650.34 L854.6,651.20 L857.6,652.05 L860.6,652.90 L863.6,653.76 L866.6,654.61 L869.6,655.46 L872.6,656.32 L875.6,657.17 L878.6,658.02 L881.6,658.87 L884.6,659.72 L887.6,660.58 L890.6,661.43 L893.6,662.28 L896.6,663.13 L899.6,663.98 L902.6,664.83 L905.6,665.68 L908.6,666.53 L911.6,667.38 L914.6,668.23 L917.3,669.00"/><path d="M89.6,520.40 L92.6,521.04 L95.6,521.68 L98.6,522.32 L101.6,522.97 L104.6,523.61 L107.6,524.25 L110.6,524.89 L113.6,525.53 L116.6,526.17 L119.6,526.81 L122.6,527.45 L125.6,528.09 L128.6,528.73 L131.6,529.37 L134.6,530.01 L137.6,530.65 L140.6,531.28 L143.6,531.92 L146.6,532.56 L149.6,533.19 L152.6,533.83 L155.6,534.47 L158.6,535.10 L161.6,535.74 L164.6,536.37 L167.6,537.00 L170.6,537.64 L173.6,538.27 L176.6,538.90 L179.6,539.53 L182.6,540.16 L185.6,540.79 L188.6,541.42 L191.6,542.04 L194.6,542.67 L197.6,543.30 L200.6,543.92 L203.6,544.55 L206.6,545.17 L209.6,545.79 L212.6,546.42 L215.6,547.04 L218.6,547.66 L221.6,548.28 L224.6,548.90 L227.6,549.52 L230.6,550.14 L233.6,550.76 L236.6,551.39 L239.6,552.01 L242.6,552.63 L245.6,553.25 L248.6,553.87 L251.6,554.49 L254.6,555.11 L257.6,555.74 L260.6,556.36 L263.6,556.98 L266.6,557.61 L269.6,558.23 L272.6,558.86 L275.6,559.48 L278.6,560.11 L281.6,560.74 L284.6,561.37 L287.6,562.00 L290.6,562.63 L293.6,563.27 L296.6,563.90 L299.6,564.54 L302.6,565.17 L305.6,565.81 L308.6,566.45 L311.6,567.09 L314.6,567.73 L317.6,568.37 L320.6,569.01 L323.6,569.65 L326.6,570.28 L329.6,570.92 L332.6,571.56 L335.6,572.20 L338.6,572.83 L341.6,573.47 L344.6,574.10 L347.6,574.73 L350.6,575.36 L353.6,575.98 L356.6,576.61 L359.6,577.23 L362.6,577.85 L365.6,578.46 L368.6,579.07 L371.6,579.68 L374.6,580.29 L377.6,580.89 L380.6,581.49 L383.6,582.08 L386.6,582.67 L389.6,583.25 L392.6,583.83 L395.6,584.41 L398.6,584.98 L401.6,585.54 L404.6,586.10 L407.6,586.66 L410.6,587.21 L413.6,587.75 L416.6,588.29 L419.6,588.82 L422.6,589.36 L425.6,589.88 L428.6,590.40 L431.6,590.92 L434.6,591.44 L437.6,591.95 L440.6,592.46 L443.6,592.96 L446.6,593.47 L449.6,593.97 L452.6,594.47 L455.6,594.96 L458.6,595.45 L461.6,595.95 L464.6,596.43 L467.6,596.92 L470.6,597.41 L473.6,597.89 L476.6,598.38 L479.6,598.86 L482.6,599.34 L485.6,599.83 L488.6,600.31 L491.6,600.79 L494.6,601.27 L497.6,601.75 L500.6,602.23 L503.6,602.72 L506.6,603.20 L509.6,603.68 L512.6,604.17 L515.6,604.65 L518.6,605.14 L521.6,605.63 L524.6,606.11 L527.6,606.60 L530.6,607.09 L533.6,607.58 L536.6,608.06 L539.6,608.55 L542.6,609.04 L545.6,609.53 L548.6,610.02 L551.6,610.52 L554.6,611.01 L557.6,611.50 L560.6,611.99 L563.6,612.48 L566.6,612.97 L569.6,613.46 L572.6,613.96 L575.6,614.45 L578.6,614.94 L581.6,615.43 L584.6,615.93 L587.6,616.42 L590.6,616.91 L593.6,617.40 L596.6,617.89 L599.6,618.39 L602.6,618.88 L605.6,619.37 L608.6,619.86 L611.6,620.35 L614.6,620.84 L617.6,621.34 L620.6,621.83 L623.6,622.32 L626.6,622.81 L629.6,623.30 L632.6,623.79 L635.6,624.28 L638.6,624.78 L641.6,625.27 L644.6,625.76 L647.6,626.25 L650.6,626.75 L653.6,627.24 L656.6,627.74 L659.6,628.23 L662.6,628.73 L665.6,629.23 L668.6,629.73 L671.6,630.22 L674.6,630.72 L677.6,631.22 L680.6,631.73 L683.6,632.23 L686.6,632.73 L689.6,633.24 L692.6,633.75 L695.6,634.25 L698.6,634.76 L701.6,635.28 L704.6,635.79 L707.6,636.30 L710.6,636.82 L713.6,637.33 L716.6,637.85 L719.6,638.37 L722.6,638.90 L725.6,639.42 L728.6,639.95 L731.6,640.48 L734.6,641.01 L737.6,641.54 L740.6,642.07 L743.6,642.61 L746.6,643.15 L749.6,643.69 L752.6,644.23 L755.6,644.77 L758.6,645.32 L761.6,645.87 L764.6,646.42 L767.6,646.98 L770.6,647.54 L773.6,648.09 L776.6,648.66 L779.6,649.22 L782.6,649.79 L785.6,650.36 L788.6,650.93 L791.6,651.51 L794.6,652.09 L797.6,652.67 L800.6,653.25 L803.6,653.84 L806.6,654.43 L809.6,655.02 L812.6,655.62 L815.6,656.22 L818.6,656.82 L821.6,657.43 L824.6,658.04 L827.6,658.65 L830.6,659.26 L833.6,659.88 L836.6,660.50 L839.6,661.12 L842.6,661.75 L845.6,662.37 L848.6,663.00 L851.6,663.63 L854.6,664.27 L857.6,664.90 L860.6,665.54 L863.6,666.18 L866.6,666.82 L869.6,667.46 L872.6,668.10 L875.6,668.75 L878.6,669.39 L881.6,670.04 L884.6,670.69 L887.6,671.34 L890.6,671.99 L893.6,672.64 L896.6,673.29 L899.6,673.94 L902.6,674.60 L905.6,675.25 L908.6,675.90 L911.6,676.56 L914.6,677.21 L917.3,677.80"/><path d="M89.6,594.50 L92.6,594.72 L95.6,594.95 L98.6,595.18 L101.6,595.40 L104.6,595.63 L107.6,595.85 L110.6,596.08 L113.6,596.30 L116.6,596.53 L119.6,596.76 L122.6,596.99 L125.6,597.22 L128.6,597.45 L131.6,597.68 L134.6,597.91 L137.6,598.14 L140.6,598.37 L143.6,598.61 L146.6,598.84 L149.6,599.08 L152.6,599.32 L155.6,599.56 L158.6,599.80 L161.6,600.04 L164.6,600.28 L167.6,600.53 L170.6,600.78 L173.6,601.02 L176.6,601.27 L179.6,601.53 L182.6,601.78 L185.6,602.03 L188.6,602.29 L191.6,602.55 L194.6,602.81 L197.6,603.08 L200.6,603.34 L203.6,603.61 L206.6,603.88 L209.6,604.15 L212.6,604.42 L215.6,604.70 L218.6,604.98 L221.6,605.25 L224.6,605.53 L227.6,605.81 L230.6,606.09 L233.6,606.38 L236.6,606.66 L239.6,606.94 L242.6,607.23 L245.6,607.51 L248.6,607.80 L251.6,608.09 L254.6,608.37 L257.6,608.66 L260.6,608.95 L263.6,609.24 L266.6,609.53 L269.6,609.82 L272.6,610.10 L275.6,610.39 L278.6,610.68 L281.6,610.97 L284.6,611.26 L287.6,611.54 L290.6,611.83 L293.6,612.11 L296.6,612.40 L299.6,612.68 L302.6,612.97 L305.6,613.25 L308.6,613.53 L311.6,613.82 L314.6,614.10 L317.6,614.38 L320.6,614.66 L323.6,614.95 L326.6,615.23 L329.6,615.51 L332.6,615.80 L335.6,616.08 L338.6,616.37 L341.6,616.66 L344.6,616.95 L347.6,617.24 L350.6,617.53 L353.6,617.82 L356.6,618.12 L359.6,618.41 L362.6,618.71 L365.6,619.01 L368.6,619.32 L371.6,619.62 L374.6,619.93 L377.6,620.24 L380.6,620.56 L383.6,620.87 L386.6,621.19 L389.6,621.52 L392.6,621.84 L395.6,622.17 L398.6,622.51 L401.6,622.85 L404.6,623.19 L407.6,623.53 L410.6,623.88 L413.6,624.24 L416.6,624.59 L419.6,624.95 L422.6,625.31 L425.6,625.67 L428.6,626.04 L431.6,626.41 L434.6,626.78 L437.6,627.15 L440.6,627.53 L443.6,627.90 L446.6,628.28 L449.6,628.66 L452.6,629.04 L455.6,629.42 L458.6,629.80 L461.6,630.19 L464.6,630.57 L467.6,630.95 L470.6,631.34 L473.6,631.72 L476.6,632.10 L479.6,632.49 L482.6,632.87 L485.6,633.25 L488.6,633.63 L491.6,634.01 L494.6,634.39 L497.6,634.76 L500.6,635.14 L503.6,635.51 L506.6,635.88 L509.6,636.25 L512.6,636.62 L515.6,636.99 L518.6,637.35 L521.6,637.72 L524.6,638.08 L527.6,638.44 L530.6,638.80 L533.6,639.17 L536.6,639.53 L539.6,639.89 L542.6,640.25 L545.6,640.61 L548.6,640.97 L551.6,641.33 L554.6,641.69 L557.6,642.05 L560.6,642.41 L563.6,642.77 L566.6,643.14 L569.6,643.50 L572.6,643.87 L575.6,644.23 L578.6,644.60 L581.6,644.97 L584.6,645.35 L587.6,645.72 L590.6,646.10 L593.6,646.48 L596.6,646.86 L599.6,647.24 L602.6,647.63 L605.6,648.02 L608.6,648.41 L611.6,648.80 L614.6,649.20 L617.6,649.60 L620.6,650.01 L623.6,650.42 L626.6,650.83 L629.6,651.24 L632.6,651.65 L635.6,652.07 L638.6,652.49 L641.6,652.91 L644.6,653.34 L647.6,653.77 L650.6,654.20 L653.6,654.63 L656.6,655.06 L659.6,655.50 L662.6,655.94 L665.6,656.38 L668.6,656.82 L671.6,657.27 L674.6,657.72 L677.6,658.17 L680.6,658.62 L683.6,659.07 L686.6,659.52 L689.6,659.98 L692.6,660.44 L695.6,660.90 L698.6,661.36 L701.6,661.82 L704.6,662.28 L707.6,662.75 L710.6,663.22 L713.6,663.68 L716.6,664.15 L719.6,664.62 L722.6,665.09 L725.6,665.57 L728.6,666.04 L731.6,666.52 L734.6,666.99 L737.6,667.47 L740.6,667.95 L743.6,668.42 L746.6,668.90 L749.6,669.38 L752.6,669.86 L755.6,670.35 L758.6,670.83 L761.6,671.31 L764.6,671.79 L767.6,672.28 L770.6,672.76 L773.6,673.25 L776.6,673.73 L779.6,674.22 L782.6,674.70 L785.6,675.19 L788.6,675.68 L791.6,676.16 L794.6,676.65 L797.6,677.14 L800.6,677.62 L803.6,678.11 L806.6,678.60 L809.6,679.09 L812.6,679.57 L815.6,680.06 L818.6,680.55 L821.6,681.03 L824.6,681.52 L827.6,682.01 L830.6,682.49 L833.6,682.98 L836.6,683.46 L839.6,683.95 L842.6,684.43 L845.6,684.92 L848.6,685.41 L851.6,685.89 L854.6,686.38 L857.6,686.86 L860.6,687.35 L863.6,687.83 L866.6,688.32 L869.6,688.80 L872.6,689.28 L875.6,689.77 L878.6,690.25 L881.6,690.74 L884.6,691.22 L887.6,691.71 L890.6,692.19 L893.6,692.68 L896.6,693.16 L899.6,693.64 L902.6,694.13 L905.6,694.61 L908.6,695.10 L911.6,695.58 L914.6,696.06 L917.3,696.50"/><path d="M89.6,620.60 L92.6,620.92 L95.6,621.25 L98.6,621.57 L101.6,621.90 L104.6,622.22 L107.6,622.55 L110.6,622.87 L113.6,623.20 L116.6,623.52 L119.6,623.84 L122.6,624.17 L125.6,624.49 L128.6,624.82 L131.6,625.14 L134.6,625.47 L137.6,625.79 L140.6,626.11 L143.6,626.44 L146.6,626.76 L149.6,627.09 L152.6,627.41 L155.6,627.74 L158.6,628.06 L161.6,628.38 L164.6,628.71 L167.6,629.03 L170.6,629.35 L173.6,629.68 L176.6,630.00 L179.6,630.32 L182.6,630.65 L185.6,630.97 L188.6,631.29 L191.6,631.62 L194.6,631.94 L197.6,632.26 L200.6,632.59 L203.6,632.91 L206.6,633.23 L209.6,633.55 L212.6,633.87 L215.6,634.19 L218.6,634.51 L221.6,634.83 L224.6,635.15 L227.6,635.47 L230.6,635.79 L233.6,636.11 L236.6,636.42 L239.6,636.74 L242.6,637.06 L245.6,637.37 L248.6,637.68 L251.6,637.99 L254.6,638.30 L257.6,638.61 L260.6,638.92 L263.6,639.23 L266.6,639.53 L269.6,639.84 L272.6,640.14 L275.6,640.44 L278.6,640.74 L281.6,641.04 L284.6,641.33 L287.6,641.63 L290.6,641.92 L293.6,642.21 L296.6,642.50 L299.6,642.79 L302.6,643.07 L305.6,643.36 L308.6,643.64 L311.6,643.92 L314.6,644.20 L317.6,644.48 L320.6,644.76 L323.6,645.04 L326.6,645.32 L329.6,645.59 L332.6,645.87 L335.6,646.15 L338.6,646.43 L341.6,646.71 L344.6,647.00 L347.6,647.28 L350.6,647.57 L353.6,647.85 L356.6,648.14 L359.6,648.43 L362.6,648.73 L365.6,649.02 L368.6,649.32 L371.6,649.62 L374.6,649.93 L377.6,650.24 L380.6,650.55 L383.6,650.86 L386.6,651.18 L389.6,651.51 L392.6,651.84 L395.6,652.17 L398.6,652.51 L401.6,652.85 L404.6,653.20 L407.6,653.55 L410.6,653.91 L413.6,654.27 L416.6,654.63 L419.6,655.00 L422.6,655.37 L425.6,655.75 L428.6,656.12 L431.6,656.50 L434.6,656.88 L437.6,657.27 L440.6,657.65 L443.6,658.04 L446.6,658.42 L449.6,658.81 L452.6,659.20 L455.6,659.58 L458.6,659.97 L461.6,660.35 L464.6,660.74 L467.6,661.12 L470.6,661.50 L473.6,661.88 L476.6,662.26 L479.6,662.64 L482.6,663.01 L485.6,663.38 L488.6,663.74 L491.6,664.11 L494.6,664.46 L497.6,664.82 L500.6,665.17 L503.6,665.51 L506.6,665.85 L509.6,666.18 L512.6,666.51 L515.6,666.84 L518.6,667.16 L521.6,667.48 L524.6,667.79 L527.6,668.10 L530.6,668.40 L533.6,668.70 L536.6,669.00 L539.6,669.30 L542.6,669.59 L545.6,669.89 L548.6,670.17 L551.6,670.46 L554.6,670.75 L557.6,671.03 L560.6,671.32 L563.6,671.60 L566.6,671.88 L569.6,672.16 L572.6,672.44 L575.6,672.72 L578.6,673.00 L581.6,673.28 L584.6,673.56 L587.6,673.84 L590.6,674.13 L593.6,674.41 L596.6,674.70 L599.6,674.98 L602.6,675.27 L605.6,675.56 L608.6,675.86 L611.6,676.15 L614.6,676.45 L617.6,676.75 L620.6,677.05 L623.6,677.35 L626.6,677.66 L629.6,677.97 L632.6,678.27 L635.6,678.58 L638.6,678.89 L641.6,679.20 L644.6,679.52 L647.6,679.83 L650.6,680.14 L653.6,680.46 L656.6,680.77 L659.6,681.08 L662.6,681.40 L665.6,681.71 L668.6,682.03 L671.6,682.34 L674.6,682.65 L677.6,682.96 L680.6,683.27 L683.6,683.58 L686.6,683.89 L689.6,684.20 L692.6,684.51 L695.6,684.81 L698.6,685.12 L701.6,685.42 L704.6,685.72 L707.6,686.01 L710.6,686.31 L713.6,686.60 L716.6,686.89 L719.6,687.18 L722.6,687.47 L725.6,687.75 L728.6,688.04 L731.6,688.32 L734.6,688.59 L737.6,688.87 L740.6,689.15 L743.6,689.42 L746.6,689.69 L749.6,689.96 L752.6,690.23 L755.6,690.50 L758.6,690.76 L761.6,691.03 L764.6,691.29 L767.6,691.55 L770.6,691.81 L773.6,692.07 L776.6,692.33 L779.6,692.59 L782.6,692.85 L785.6,693.10 L788.6,693.36 L791.6,693.61 L794.6,693.87 L797.6,694.12 L800.6,694.37 L803.6,694.63 L806.6,694.88 L809.6,695.13 L812.6,695.38 L815.6,695.63 L818.6,695.89 L821.6,696.14 L824.6,696.39 L827.6,696.64 L830.6,696.89 L833.6,697.14 L836.6,697.39 L839.6,697.64 L842.6,697.89 L845.6,698.14 L848.6,698.39 L851.6,698.64 L854.6,698.89 L857.6,699.14 L860.6,699.39 L863.6,699.64 L866.6,699.89 L869.6,700.14 L872.6,700.39 L875.6,700.64 L878.6,700.89 L881.6,701.14 L884.6,701.39 L887.6,701.64 L890.6,701.88 L893.6,702.13 L896.6,702.38 L899.6,702.63 L902.6,702.88 L905.6,703.13 L908.6,703.38 L911.6,703.63 L914.6,703.88 L917.3,704.10"/></g>
<g fill="#117680" font-size="18" font-weight="bold" font-style="italic" stroke="#117680" stroke-width="0.35"><text transform="translate(298.0,199.4) rotate(23.80)" textLength="133" lengthAdjust="spacing">6SP30 19-18.5</text><text transform="translate(302.0,297.2) rotate(19.60)" textLength="115" lengthAdjust="spacing">6SP30 16-15</text><text transform="translate(299.0,342.7) rotate(20.20)" textLength="115" lengthAdjust="spacing">6SP30 14-13</text><text transform="translate(298.0,388.5) rotate(14.80)" textLength="115" lengthAdjust="spacing">6SP30 12-11</text><text transform="translate(300.5,450.6) rotate(14.20)" textLength="122" lengthAdjust="spacing">6SP30 10-9.2</text><text transform="translate(298.0,501.4) rotate(13.20)" textLength="121" lengthAdjust="spacing">6SP30 08-7.5</text><text transform="translate(299.0,562.0) rotate(11.20)" textLength="122" lengthAdjust="spacing">6SP30 06-5.5</text><text transform="translate(300.0,609.4) rotate(5.45)" textLength="122" lengthAdjust="spacing">6SP30 04-4.0</text><text transform="translate(300.0,637.7) rotate(7.20)" textLength="122" lengthAdjust="spacing">6SP30 03-3.0</text></g>
</svg></body></html>
